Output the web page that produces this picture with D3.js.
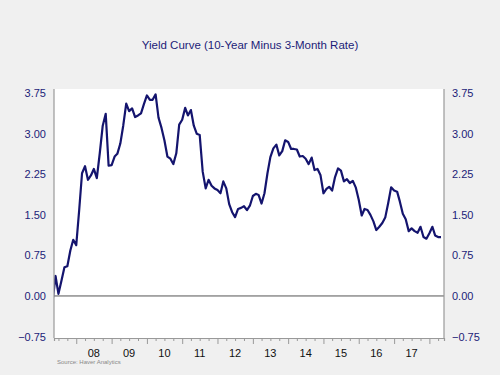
<!DOCTYPE html>
<html>
<head>
<meta charset="utf-8">
<script src="https://cdn.jsdelivr.net/npm/d3@7"></script>
<style>
  body { margin: 0; background: #f0f0f0; }
  svg { display: block; font-family: Arial, "Liberation Sans", sans-serif; }
</style>
</head>
<body>
<svg id="chart"></svg>
<script>
// monthly spread, May 2007 .. May 2018
const startMonth = new Date(2007, 4, 1)
const spread = [
  -0.10, 0.37, 0.04, 0.28, 0.53, 0.55, 0.84, 1.04,
  0.94, 1.60, 2.27, 2.40, 2.15, 2.23, 2.35, 2.18, 2.65, 3.15, 3.37, 2.41,
  2.42, 2.58, 2.63, 2.82, 3.15, 3.56, 3.42, 3.47, 3.31, 3.34, 3.38, 3.55,
  3.71, 3.63, 3.63, 3.73, 3.30, 3.11, 2.88, 2.58, 2.54, 2.44, 2.64, 3.17,
  3.26, 3.48, 3.34, 3.44, 3.15, 3.00, 2.98, 2.30, 1.99, 2.15, 2.04, 1.99,
  1.96, 1.90, 2.12, 1.99, 1.70, 1.55, 1.46, 1.61, 1.63, 1.66, 1.59, 1.67,
  1.85, 1.89, 1.87, 1.71, 1.90, 2.27, 2.57, 2.73, 2.80, 2.60, 2.68, 2.88,
  2.85, 2.72, 2.72, 2.71, 2.58, 2.59, 2.54, 2.44, 2.56, 2.33, 2.35, 2.24,
  1.90, 1.98, 2.02, 1.95, 2.20, 2.36, 2.32, 2.12, 2.16, 2.09, 2.13, 2.01,
  1.78, 1.49, 1.61, 1.59, 1.50, 1.38, 1.22, 1.28, 1.35, 1.45, 1.72, 2.01,
  1.95, 1.93, 1.75, 1.52, 1.42, 1.20, 1.25, 1.20, 1.17, 1.28, 1.09, 1.06,
  1.16, 1.28, 1.12, 1.09, 1.09
]
const yTicks = [-0.75, 0, 0.75, 1.5, 2.25, 3, 3.75]
const yearLabels = ['08', '09', '10', '11', '12', '13', '14', '15', '16', '17']
const title = 'Yield Curve (10-Year Minus 3-Month Rate)'
const source = 'Source: Haver Analytics'

const data = spread.map((v, i) => ({ date: d3.timeMonth.offset(startMonth, i), value: v }))

const W = 500, H = 375
const margin = { top: 89, right: 56, bottom: 37, left: 54 }
const width = W - margin.left - margin.right
const height = H - margin.top - margin.bottom

const svg = d3.select('#chart').attr('width', W).attr('height', H)

svg.append('text')
  .attr('x', 250).attr('y', 49)
  .attr('text-anchor', 'middle')
  .attr('font-size', 11.5)
  .attr('fill', '#1c1c78')
  .text(title)

const chart = svg.append('g').attr('transform', `translate(${margin.left},${margin.top})`)

chart.append('rect')
  .attr('width', width).attr('height', height)
  .attr('fill', '#fff')

const x = d3.scaleTime()
  .domain([new Date(2007, 4, 16), new Date(2018, 5, 1)])
  .range([0, width])

const y = d3.scaleLinear()
  .domain([-0.75, 3.75])
  .range([height - 1.5, 4.3])

chart.append('clipPath').attr('id', 'clip')
  .append('rect').attr('width', width).attr('height', height)

// zero line
chart.append('line')
  .attr('x1', 0).attr('x2', width)
  .attr('y1', y(0)).attr('y2', y(0))
  .attr('stroke', '#555').attr('stroke-width', 1)

const line = d3.line()
  .x(d => x(d.date))
  .y(d => y(d.value))

chart.append('path')
  .datum(data)
  .attr('clip-path', 'url(#clip)')
  .attr('fill', 'none')
  .attr('stroke', '#14146e')
  .attr('stroke-width', 2.2)
  .attr('stroke-linejoin', 'round')
  .attr('d', line)

// left / right axes, labels only
const yAxisL = d3.axisLeft(y).tickValues(yTicks).tickSize(0).tickPadding(8).tickFormat(d3.format('.2f'))
const yAxisR = d3.axisRight(y).tickValues(yTicks).tickSize(0).tickPadding(8).tickFormat(d3.format('.2f'))

const gl = chart.append('g').call(yAxisL)
const gr = chart.append('g').attr('transform', `translate(${width},0)`).call(yAxisR)
for (const g of [gl, gr]) {
  g.select('.domain').remove()
  g.selectAll('text')
    .attr('font-size', 11)
    .attr('font-family', 'Arial, "Liberation Sans", sans-serif')
    .attr('fill', '#1c1c78')
}

// frame lines
chart.append('line').attr('x1', 0).attr('x2', 0).attr('y1', 0).attr('y2', height)
  .attr('stroke', '#999').attr('stroke-width', 1.2)
chart.append('line').attr('x1', width).attr('x2', width).attr('y1', 0).attr('y2', height)
  .attr('stroke', '#999').attr('stroke-width', 1.2)

// bottom axis: quarter ticks, longer year ticks, labels mid-year
const xAxisG = chart.append('g').attr('transform', `translate(0,${height})`)
xAxisG.call(d3.axisBottom(x).ticks(d3.timeMonth.every(3)).tickSize(3).tickFormat(''))
xAxisG.select('.domain').attr('stroke', '#999').attr('stroke-width', 1.2)
xAxisG.selectAll('.tick line')
  .attr('stroke', '#999')
  .attr('y2', d => d.getMonth() === 0 ? 6 : 3)

const years = yearLabels.map(s => 2000 + +s)
xAxisG.selectAll('.year-label')
  .data(years)
  .join('text')
  .attr('class', 'year-label')
  .attr('x', d => x(new Date(d, 6, 1)))
  .attr('y', 19)
  .attr('text-anchor', 'middle')
  .attr('font-size', 11)
  .attr('fill', '#111')
  .text((d, i) => yearLabels[i])

svg.append('text')
  .attr('x', 57).attr('y', 364)
  .attr('font-size', 6)
  .attr('fill', '#888')
  .text(source)
</script>
</body>
</html>
